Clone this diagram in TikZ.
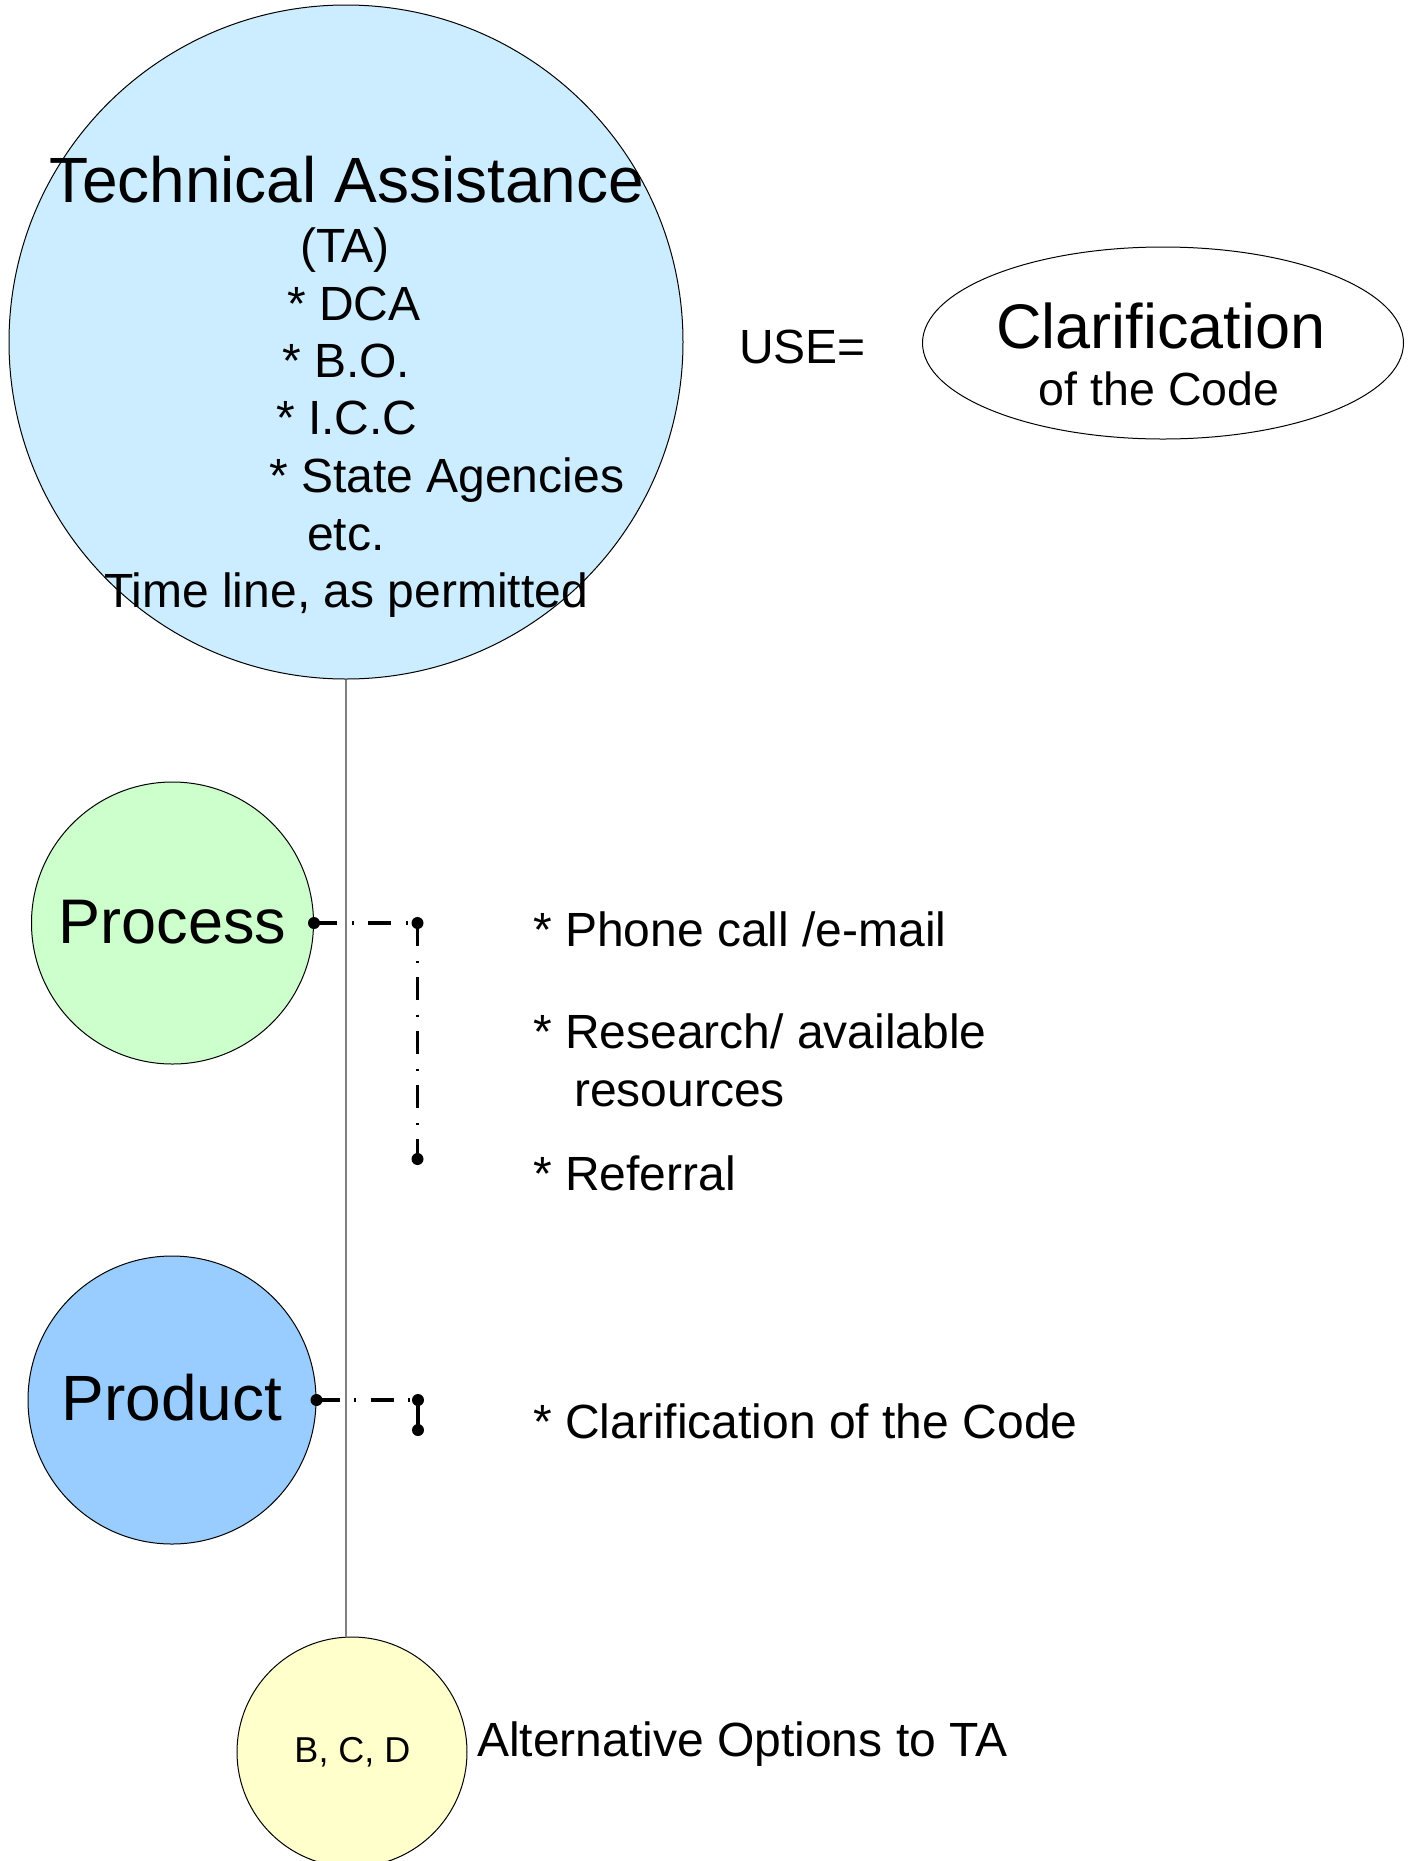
\documentclass[tikz,border=0pt]{standalone}
\usepackage{fontspec}
\setmainfont{Liberation Sans}
\usetikzlibrary{shapes.geometric}
\definecolor{taBlue}{HTML}{CCECFF}
\definecolor{procGreen}{HTML}{CCFFCC}
\definecolor{prodBlue}{HTML}{99CCFF}
\definecolor{bcdYellow}{HTML}{FFFFCC}
\definecolor{trunkGray}{HTML}{808080}
\begin{document}
\begin{tikzpicture}[x=1pt,y=-1pt,
  bubble/.style={circle,draw=black,line width=1pt,inner sep=0pt},
  bigtxt/.style={font=\fontsize{63}{70}\selectfont,inner sep=0pt,anchor=base},
  txt/.style={font=\fontsize{48}{54}\selectfont,inner sep=0pt,anchor=base west},
  ctxt/.style={font=\fontsize{48}{54}\selectfont,inner sep=0pt,anchor=base},
  conn/.style={line width=3.2pt,dash pattern=on 23pt off 14.5pt on 2pt off 14.5pt},
  trunk/.style={draw=trunkGray,line width=1.3pt}
]
\useasboundingbox (0,0) rectangle (1411,1861);

% Technical Assistance bubble
\node[bubble,fill=taBlue,minimum size=674pt] (ta) at (346,342) {};
\node[bigtxt,font=\fontsize{64}{70}\selectfont] (taTitle) at (347,202) {Technical Assistance};
\node[ctxt] (taAbbr) at (345,262) {(TA)};
\node[txt] (taDCA) at (287,320) {* DCA};
\node[txt] (taBO) at (282,377) {* B.O.};
\node[txt] (taICC) at (276,434) {* I.C.C};
\node[txt] (taState) at (269,492) {* State Agencies};
\node[txt] (taEtc) at (307,550) {etc.};
\node[ctxt] (taTime) at (346,607) {Time line, as permitted};

% USE = Clarification
\node[txt] (use) at (739,363) {USE=};
\node[ellipse,draw=black,line width=1pt,fill=white,minimum width=481pt,minimum height=192pt,inner sep=0pt] (clar) at (1163,343) {};
\node[bigtxt] (clarA) at (1161,348) {Clarification};
\node[ctxt,font=\fontsize{46.5}{52}\selectfont] (clarB) at (1159,405) {of the Code};

% Process bubble
\node[bubble,fill=procGreen,minimum size=282pt] (process) at (172.5,923) {};
\node[bigtxt] (processT) at (172.5,943) {Process};

% Product bubble
\node[bubble,fill=prodBlue,minimum size=288pt] (product) at (172,1400) {};
\node[bigtxt,font=\fontsize{64}{70}\selectfont] (productT) at (172,1420) {Product};

% B, C, D bubble
\node[bubble,fill=bcdYellow,minimum size=230pt] (bcd) at (352,1752) {};
\node[ctxt,font=\fontsize{36}{42}\selectfont] (bcdT) at (352.5,1762) {B, C, D};
\node[txt] (alt) at (477,1756) {Alternative Options to TA};

% trunk line
\draw[trunk] (ta.south) -- (ta.south |- bcd.north);

% process bracket
\coordinate (pe) at (process.east);
\coordinate (p1) at (417.5,923);
\coordinate (p2) at (417.5,1159);
\draw[conn] (pe) -- (p1);
\draw[conn] (p1) -- (p2);
\fill (pe) circle (6pt);
\fill (p1) circle (6pt);
\fill (p2) circle (6pt);

% product bracket
\coordinate (qe) at (product.east);
\coordinate (q1) at (418,1400);
\coordinate (q2) at (418,1430);
\draw[conn] (qe) -- (q1);
\draw[line width=3.2pt] (q1) -- (q2);
\fill (qe) circle (6pt);
\fill (q1) circle (6pt);
\fill (q2) circle (6pt);

% process list
\node[txt] (phone) at (533,946) {* Phone call /e-mail};
\node[txt] (research) at (533,1048) {* Research/ available};
\node[txt] (resources) at (574,1106) {resources};
\node[txt] (referral) at (533,1190) {* Referral};

% product list
\node[txt] (clarItem) at (533,1438) {* Clarification of the Code};
\end{tikzpicture}
\end{document}
